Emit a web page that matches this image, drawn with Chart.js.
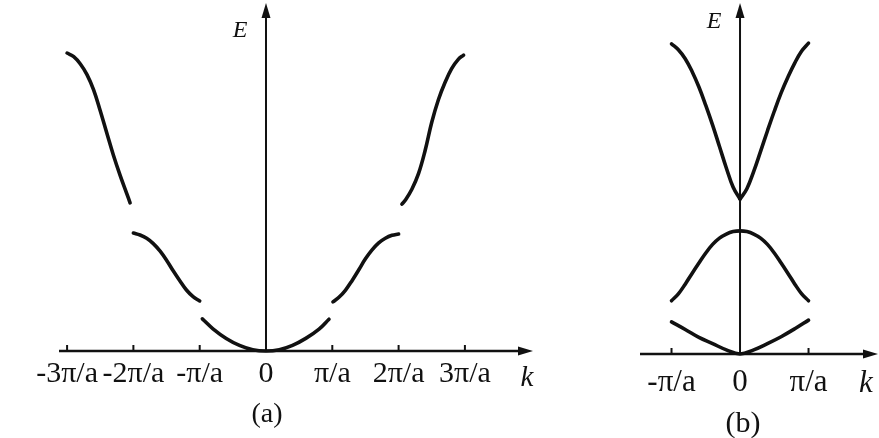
<!DOCTYPE html>
<html>
<head>
<meta charset="utf-8">
<script src="https://cdn.jsdelivr.net/npm/chart.js@4.4.1/dist/chart.umd.min.js"></script>
<style>
  html, body { margin: 0; padding: 0; background: #fff; }
  #wrap { position: relative; width: 879px; height: 438px; overflow: hidden; }
  .box { position: absolute; top: 0; height: 438px; }
  #boxA { left: 0; width: 560px; }
  #boxB { left: 600px; width: 279px; }
  .lbl { position: absolute; font-family: "Liberation Serif", serif; color: #111;
         transform: translate(-50%, -50%); white-space: nowrap; line-height: 1; }
  .it { font-style: italic; }
</style>
</head>
<body>
<div id="wrap">
  <div class="box" id="boxA"><canvas id="chartA" width="560" height="438"></canvas></div>
  <div class="box" id="boxB"><canvas id="chartB" width="279" height="438"></canvas></div>
  <span class="lbl it" style="left:240px;top:29px;font-size:24px">E</span>
  <span class="lbl it" style="left:527px;top:376px;font-size:29px">k</span>
  <span class="lbl" style="left:267px;top:413px;font-size:28px">(a)</span>
  <span class="lbl it" style="left:714px;top:20px;font-size:24px">E</span>
  <span class="lbl it" style="left:866px;top:381px;font-size:31px">k</span>
  <span class="lbl" style="left:743px;top:422px;font-size:30px">(b)</span>
</div>
<script>
// k in units of pi/a, E in arbitrary units

// (a) extended zone
const tickValsA = [-3, -2, -1, 0, 1, 2, 3];
const tickLabelsA = ['-3π/a', '-2π/a', '-π/a', '0', 'π/a', '2π/a', '3π/a'];

const kA1 = [-0.96, -0.8, -0.6, -0.4, -0.2, 0, 0.2, 0.4, 0.6, 0.8, 0.95];
const eA1 = [0.97, 0.67, 0.38, 0.17, 0.04, 0, 0.04, 0.17, 0.38, 0.66, 0.96];

const kA2L = [-2.0, -1.9, -1.8, -1.7, -1.6, -1.5, -1.4, -1.3, -1.2, -1.1, -1.0];
const eA2L = [3.56, 3.50, 3.40, 3.24, 3.02, 2.74, 2.42, 2.12, 1.84, 1.64, 1.51];
const kA2R = [1.01, 1.1, 1.2, 1.3, 1.4, 1.5, 1.6, 1.7, 1.8, 1.9, 2.0];
const eA2R = [1.48, 1.62, 1.84, 2.13, 2.45, 2.78, 3.05, 3.26, 3.40, 3.49, 3.53];

const kA3L = [-3.0, -2.9, -2.8, -2.7, -2.6, -2.5, -2.4, -2.3, -2.2, -2.1, -2.05];
const eA3L = [8.99, 8.88, 8.66, 8.34, 7.88, 7.25, 6.57, 5.90, 5.30, 4.75, 4.47];
const kA3R = [2.05, 2.1, 2.2, 2.3, 2.4, 2.5, 2.6, 2.7, 2.8, 2.9, 2.98];
const eA3R = [4.43, 4.55, 4.88, 5.35, 6.05, 6.90, 7.58, 8.10, 8.52, 8.80, 8.93];

// (b) reduced zone
const tickValsB = [-1, 0, 1];
const tickLabelsB = ['-π/a', '0', 'π/a'];

const kB1 = [-1.0, -0.8, -0.6, -0.4, -0.2, 0, 0.2, 0.4, 0.6, 0.8, 1.0];
const eB1 = [0.93, 0.71, 0.48, 0.30, 0.12, 0, 0.12, 0.30, 0.50, 0.73, 0.98];

const kB2 = [-1.0, -0.9, -0.8, -0.7, -0.6, -0.5, -0.4, -0.3, -0.2, -0.1, 0,
             0.1, 0.2, 0.3, 0.4, 0.5, 0.6, 0.7, 0.8, 0.9, 1.0];
const eB2 = [1.54, 1.74, 2.02, 2.33, 2.63, 2.92, 3.17, 3.35, 3.47, 3.54, 3.56,
             3.54, 3.47, 3.35, 3.17, 2.92, 2.63, 2.33, 2.02, 1.74, 1.54];

const kB3L = [-1.0, -0.9, -0.8, -0.7, -0.6, -0.5, -0.4, -0.3, -0.2, -0.1, 0];
const eB3L = [8.97, 8.80, 8.54, 8.17, 7.72, 7.19, 6.62, 6.00, 5.38, 4.82, 4.48];
const kB3R = [0, 0.1, 0.2, 0.3, 0.4, 0.5, 0.6, 0.7, 0.8, 0.9, 1.0];
const eB3R = [4.48, 4.78, 5.28, 5.86, 6.45, 7.02, 7.55, 8.01, 8.42, 8.76, 8.99];

const INK = '#111';

function band(ks, es) {
  return {
    data: ks.map((k, i) => ({ x: k, y: es[i] })),
    borderColor: INK,
    borderWidth: 3.6,
    borderCapStyle: 'round',
    pointRadius: 0,
    tension: 0.4,
    clip: false
  };
}

// axes with arrow heads and small upward tick marks
const axisArrows = {
  id: 'axisArrows',
  beforeDatasetsDraw(chart) {
    const { ctx, chartArea: a, scales: { x, y } } = chart;
    const y0 = y.getPixelForValue(0);
    const x0 = x.getPixelForValue(0);
    ctx.save();
    ctx.strokeStyle = INK;
    ctx.fillStyle = INK;
    ctx.lineWidth = 2.5;
    ctx.beginPath();
    ctx.moveTo(a.left, y0);
    ctx.lineTo(a.right - 10, y0);
    ctx.stroke();
    ctx.beginPath();
    ctx.moveTo(a.right, y0);
    ctx.lineTo(a.right - 15, y0 - 4.5);
    ctx.lineTo(a.right - 15, y0 + 4.5);
    ctx.closePath();
    ctx.fill();

    ctx.lineWidth = 2;
    ctx.beginPath();
    ctx.moveTo(x0, y0);
    ctx.lineTo(x0, a.top + 10);
    ctx.stroke();
    ctx.beginPath();
    ctx.moveTo(x0, a.top);
    ctx.lineTo(x0 - 4.5, a.top + 15);
    ctx.lineTo(x0 + 4.5, a.top + 15);
    ctx.closePath();
    ctx.fill();

    x.ticks.forEach(t => {
      if (t.value === 0) return;
      const px = x.getPixelForValue(t.value);
      ctx.beginPath();
      ctx.moveTo(px, y0);
      ctx.lineTo(px, y0 - 6);
      ctx.stroke();
    });
    ctx.restore();
  }
};

function makeChart(id, cfg) {
  return new Chart(document.getElementById(id), {
    type: 'line',
    data: { datasets: cfg.datasets },
    options: {
      responsive: false,
      animation: false,
      events: [],
      layout: { padding: cfg.padding },
      plugins: { legend: { display: false }, tooltip: { enabled: false } },
      scales: {
        x: {
          type: 'linear',
          min: cfg.xMin,
          max: cfg.xMax,
          afterBuildTicks: s => { s.ticks = cfg.tickVals.map(v => ({ value: v })); },
          afterFit: s => { s.height = cfg.axisHeight; },
          grid: { display: false, drawTicks: false },
          border: { display: false },
          ticks: {
            padding: cfg.tickPad,
            color: INK,
            autoSkip: false,
            maxRotation: 0,
            font: { family: 'Liberation Serif', size: cfg.fontSize },
            callback: (v, i) => cfg.tickLabels[i]
          }
        },
        y: { type: 'linear', display: false, min: 0, max: cfg.yMax }
      }
    },
    plugins: [axisArrows]
  });
}

makeChart('chartA', {
  datasets: [band(kA1, eA1), band(kA2L, eA2L), band(kA2R, eA2R), band(kA3L, eA3L), band(kA3R, eA3R)],
  padding: { left: 59, right: 27, top: 3, bottom: 0 },
  xMin: -3.122, xMax: 4.027, yMax: 10.5,
  tickVals: tickValsA, tickLabels: tickLabelsA,
  axisHeight: 87, tickPad: 5, fontSize: 30
});

makeChart('chartB', {
  datasets: [band(kB1, eB1), band(kB2, eB2), band(kB3L, eB3L), band(kB3R, eB3R)],
  padding: { left: 40, right: 1, top: 3, bottom: 0 },
  xMin: -1.46, xMax: 2.014, yMax: 10.15,
  tickVals: tickValsB, tickLabels: tickLabelsB,
  axisHeight: 84, tickPad: 10, fontSize: 31
});
</script>
</body>
</html>
